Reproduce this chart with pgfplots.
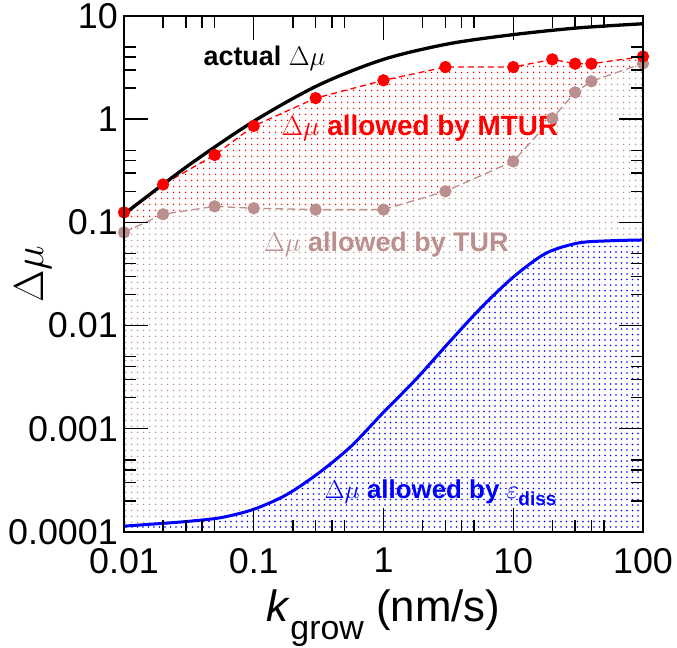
\RequirePackage{fix-cm}
\documentclass[border=0pt]{standalone}
\usepackage{fontspec}
\setmainfont{Liberation Sans}
\usepackage{pgfplots}
\pgfplotsset{compat=1.18}
\usepgfplotslibrary{fillbetween}
\usetikzlibrary{patterns.meta}
\definecolor{turbrown}{RGB}{188,143,143}

\begin{document}
\begin{tikzpicture}
\begin{axis}[
    name=ax,
    scale only axis, width=519bp, height=516bp,
    xmode=log, ymode=log,
    xmin=0.01, xmax=100, ymin=0.0001, ymax=10,
    xtick={0.01,0.1,1,10,100}, xticklabels={0.01,0.1,1,10,100},
    ytick={0.0001,0.001,0.01,0.1,1,10}, yticklabels={0.0001,0.001,0.01,0.1,1,10},
    minor xtick={0.02,0.03,0.04,0.05,0.2,0.3,0.4,0.5,2,3,4,5,20,30,40,50},
    minor ytick={0.0002,0.0003,0.0004,0.0005,0.002,0.003,0.004,0.005,0.02,0.03,0.04,0.05,0.2,0.3,0.4,0.5,2,3,4,5},
    tick align=inside,
    major tick length=24bp, minor tick length=12bp,
    every tick/.append style={black, line width=1.4bp},
    axis line style={line width=2bp},
    /pgf/number format/assume math mode=true,
    tick label style={font=\fontsize{36}{40}\selectfont, inner sep=0pt},
    xticklabel shift=16bp, yticklabel shift=6bp,
    axis on top, clip=false,
    xlabel={\textit{k}\raisebox{-18bp}{\fontsize{34}{38}\selectfont grow} (nm/s)},
    xlabel style={at={(axis description cs:0.5,-0.1744)}, anchor=base, font=\fontsize{44}{48}\selectfont},
    ylabel={$\Delta\mu$},
    ylabel style={at={(axis description cs:-0.1753,0.5)}, anchor=center, font=\fontsize{42}{46}\selectfont},
]

% bottom edge for the fills
\addplot[draw=none, name path=bottom, forget plot] coordinates {(0.01,0.0001) (100,0.0001)};

% bound from dissipation
\addplot[blue, line width=3bp, smooth, name path=diss] coordinates {
 (0.01,1.14e-4) (0.0178,1.20e-4) (0.0316,1.27e-4) (0.0562,1.38e-4) (0.1,1.66e-4)
 (0.178,2.29e-4) (0.316,3.72e-4) (0.562,6.76e-4) (1,1.445e-3) (1.78,3.02e-3)
 (3.16,6.76e-3) (5.62,0.01479) (10,0.0295) (17.8,0.0501) (31.6,0.0631)
 (56.2,0.0664) (100,0.0676)};

% TUR
\addplot[turbrown, line width=1.3bp, dash pattern=on 8bp off 4bp, name path=tur,
  mark=*, mark size=5.5bp, mark options={solid}] coordinates {
 (0.01,0.08) (0.02,0.12) (0.05,0.143) (0.1,0.137) (0.3,0.133) (1,0.133)
 (3,0.2) (10,0.39) (20,1.02) (30,1.82) (40,2.33) (100,3.47)};

% MTUR
\addplot[red, line width=1.3bp, dash pattern=on 6bp off 4bp, name path=mtur,
  mark=*, mark size=5.5bp, mark options={solid}] coordinates {
 (0.01,0.125) (0.02,0.233) (0.05,0.45) (0.1,0.86) (0.3,1.6) (1,2.38)
 (3,3.2) (10,3.2) (20,3.8) (30,3.45) (40,3.45) (100,4.05)};

% actual
\addplot[black, line width=3.3bp, smooth] coordinates {
 (0.01,0.12) (0.0316,0.359) (0.1,0.955) (0.316,2.14) (1,3.8)
 (3.16,5.37) (10,6.6) (31.6,7.67) (100,8.41)};

\addplot[pattern={Dots[distance=6bp,radius=0.95bp]}, pattern color=red, draw=none] fill between[of=mtur and tur];
\addplot[pattern={Dots[distance=6bp,radius=0.95bp]}, pattern color=turbrown, draw=none] fill between[of=tur and diss];
\addplot[pattern={Dots[distance=5.5bp,radius=0.9bp]}, pattern color=blue, draw=none] fill between[of=diss and bottom];

\node[anchor=west, font=\fontsize{27}{30}\selectfont] at (axis cs:0.0386,3.85) {\textbf{actual} $\Delta\mu$};
\node[anchor=west, red, font=\fontsize{28}{30}\selectfont] at (axis cs:0.154,0.81) {$\Delta\mu$ \textbf{allowed by MTUR}};
\node[anchor=west, turbrown, font=\fontsize{27}{30}\selectfont] at (axis cs:0.113,0.061) {$\Delta\mu$ \textbf{allowed by TUR}};
\node[anchor=west, blue, font=\fontsize{26}{28}\selectfont] at (axis cs:0.33,2.38e-4) {$\Delta\mu$ \textbf{allowed by} $\varepsilon$\raisebox{-7bp}{\fontsize{19}{20}\selectfont\bfseries diss}};
\end{axis}
\pgfresetboundingbox
\path ([shift={(-124bp,-116bp)}]ax.south west) rectangle ([shift={(34bp,16bp)}]ax.north east);
\end{tikzpicture}
\end{document}
